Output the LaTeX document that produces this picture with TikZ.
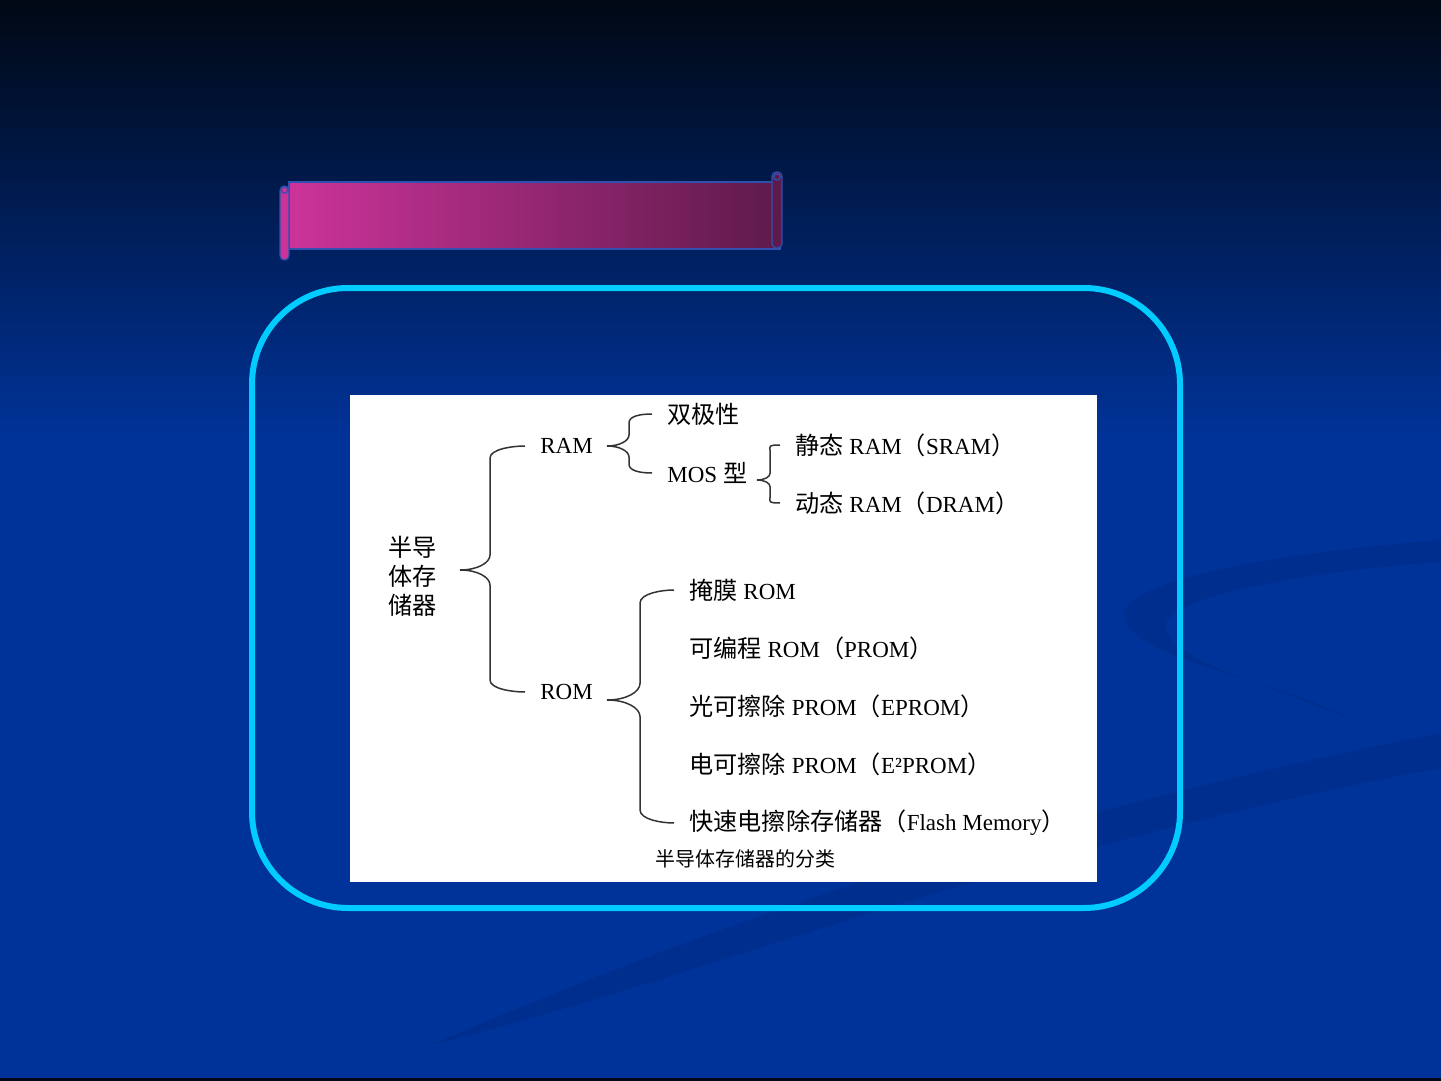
\documentclass[tikz,border=0pt]{standalone}
\usepackage{fontspec}
\setmainfont{Liberation Serif}
\newfontfamily\cjk[Scale=1.05]{Noto Sans CJK SC}
\usetikzlibrary{calc}
\newcommand\zh[1]{{\cjk #1}}
\definecolor{bgtop}{HTML}{000814}
\definecolor{bgblue}{HTML}{003399}
\definecolor{swoosh}{HTML}{00216E}
\definecolor{pinkL}{HTML}{CC3399}
\definecolor{pinkR}{HTML}{5E1A4A}
\definecolor{rollblue}{HTML}{3050B0}
\definecolor{frameblue}{HTML}{00CCFF}
% one arm of a brace: tip, width, child, direction (1 down, -1 up)
\newcommand\arm[4]{%
  \draw[brace line] (#1) .. controls +(0.6*#2,0) and +(0,{-0.25*#2*#4}) .. ($(#1)+(#2,{0.5*#2*#4})$)
    -- ($(#3.west -| #1)+(#2,{-0.4*#2*#4})$) .. controls +(0,{0.3*#2*#4}) and +(-12,0) .. ($(#3.west)+(-15,0)$);}

\begin{document}
\begin{tikzpicture}[x=0.5pt, y=-0.5pt,
     txt/.style={anchor=west, inner sep=0pt, text=black, font=\fontsize{11.5}{14.5}\selectfont},
     brace line/.style={draw=black!80, line width=0.75pt},
     banner roll/.style={draw=rollblue, line width=0.6pt, rounded corners=2.2pt},
     frame/.style={draw=frameblue, line width=3pt, rounded corners=48pt},
     swoosh band/.style={fill=swoosh, fill opacity=0.25}]
   \useasboundingbox (0,0) rectangle (1441,1081);

   \fill[bgblue] (0,0) rectangle (1441,1081);
   \shade[top color=bgtop, bottom color=bgblue] (0,0) rectangle (1441,441);
   \fill[swoosh band] (430,1045) .. controls (700,930) and (1000,820) .. (1441,733)
     -- (1441,768) .. controls (1000,850) and (700,980) .. (430,1045) -- cycle;
   \fill[swoosh band] (1441,540) .. controls (1250,555) and (1110,585) .. (1125,620)
     .. controls (1140,662) and (1290,682) .. (1355,722)
     .. controls (1285,688) and (1172,664) .. (1166,628)
     .. controls (1160,598) and (1300,572) .. (1441,562) -- cycle;
   \fill[black!85!bgblue] (0,1078) rectangle (1441,1081);

   \shade[left color=pinkL, right color=pinkR, draw=rollblue, line width=0.6pt] (289,182) rectangle (780,249);
   \draw[banner roll, fill=pinkL] (280,186) rectangle (289,260);
   \draw[banner roll, fill=pinkR] (772,172) rectangle (782,248);
   \draw[rollblue, line width=0.6pt] (284.5,190) circle[radius=1.6pt] (777,177) circle[radius=1.6pt];

   \draw[frame] (252,288) rectangle (1180,908);
   \fill[white] (350,395) rectangle (1097,882);

   \node[txt, align=left] (semi) at (388,576) {\zh{半导}\\\zh{体存}\\\zh{储器}};
   \node[txt] (ram) at (540,446) {RAM};
   \node[txt] (rom) at (540,692) {ROM};
   \node[txt] (bip) at (667,414) {\zh{双极性}};
   \node[txt] (mos) at (667,473) {MOS \zh{型}};
   \node[txt] (sram) at (795,445) {\zh{静态} RAM\zh{（}SRAM\zh{）}};
   \node[txt] (dram) at (795,503) {\zh{动态} RAM\zh{（}DRAM\zh{）}};
   \node[txt] (mask) at (689,590) {\zh{掩膜} ROM};
   \node[txt] (prom) at (689,648) {\zh{可编程} ROM\zh{（}PROM\zh{）}};
   \node[txt] (eprom) at (689,706) {\zh{光可擦除} PROM\zh{（}EPROM\zh{）}};
   \node[txt] (eeprom) at (689,764) {\zh{电可擦除} PROM\zh{（}E²PROM\zh{）}};
   \node[txt] (flash) at (689,823) {\zh{快速电擦除存储器（}Flash Memory\zh{）}};
   \node[txt, font=\fontsize{9.5}{12}\selectfont] (cap) at (655,859) {\zh{半导体存储器的分类}};

   \coordinate (b1) at (460,570);
   \coordinate (b2) at (607,446);
   \coordinate (b3) at (757,480);
   \coordinate (b4) at (607,700);
   \arm{b1}{30}{ram}{-1} \arm{b1}{30}{rom}{1}
   \arm{b2}{22}{bip}{-1} \arm{b2}{22}{mos}{1}
   \arm{b3}{13}{sram}{-1} \arm{b3}{13}{dram}{1}
   \arm{b4}{33}{mask}{-1} \arm{b4}{33}{flash}{1}
\end{tikzpicture}
\end{document}
